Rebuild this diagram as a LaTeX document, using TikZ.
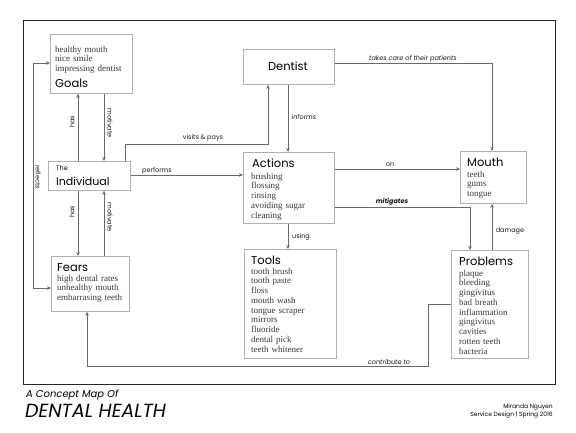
\documentclass[tikz,border=0pt]{standalone}
\usepackage{fontspec}
\setmainfont{Liberation Serif}
\newfontfamily\geo{Poppins}
\usetikzlibrary{arrows.meta}
\definecolor{boxgray}{HTML}{B0B0B0}
\definecolor{linegray}{HTML}{6A6A6A}
\definecolor{listgray}{HTML}{3A3A3A}
\tikzset{
  cbox/.style={draw=boxgray, line width=0.8pt, fill=white, anchor=north west, inner sep=0pt},
  head/.style={anchor=base west, inner sep=0pt, font=\geo\fontsize{11.5}{12}\selectfont},
  lst/.style={anchor=base west, inner sep=0pt, align=left, text width=80pt, text=listgray, font=\fontsize{9}{9.75}\selectfont},
  conn/.style={draw=linegray, line width=0.7pt, -{Stealth[length=4pt,width=3.5pt]}},
  lbl/.style={inner sep=0pt, text=black!90, font=\geo\fontsize{6.5}{7}\selectfont},
  ilbl/.style={inner sep=0pt, text=black!90, font=\geo\itshape\fontsize{6.5}{7}\selectfont},
}
\begin{document}
\begin{tikzpicture}[x=1pt,y=-1pt]
\useasboundingbox (0,0) rectangle (576,432);
\node[draw=black!85, line width=1.1pt, anchor=north west, inner sep=0pt, minimum width=532pt, minimum height=364pt] (frame) at (23,20) {};

% boxes
\node[cbox, minimum width=82pt, minimum height=59pt] (goals) at (50,34) {};
\node[cbox, minimum width=82pt, minimum height=29pt] (ind) at (48,161) {};
\node[cbox, minimum width=78pt, minimum height=55pt] (fears) at (51,256) {};
\node[cbox, minimum width=91pt, minimum height=35pt] (dent) at (243,49) {};
\node[cbox, minimum width=91pt, minimum height=71pt] (act) at (243,152) {};
\node[cbox, minimum width=92pt, minimum height=109pt] (tools) at (244,249) {};
\node[cbox, minimum width=66pt, minimum height=52pt] (mouth) at (460,151) {};
\node[cbox, minimum width=77pt, minimum height=108pt] (prob) at (451,250) {};

% texts
\node[lst] (goalsl) at (55,52) {healthy mouth\\nice smile\\impressing dentist};
\node[head] (goalsh) at (55,87) {Goals};
\node[head, font=\geo\fontsize{6.5}{7}\selectfont] (indthe) at (56,170) {The};
\node[head, font=\geo\fontsize{11}{12}\selectfont] (indh) at (56,185) {Individual};
\node[head] (fearsh) at (57,271) {Fears};
\node[lst] (fearsl) at (57,281) {high dental rates\\unhealthy mouth\\embarrasing teeth};
\node[head, anchor=base] (denth) at (288,70) {Dentist};
\node[head] (acth) at (252,167) {Actions};
\node[lst] (actl) at (251,179) {brushing\\flossing\\rinsing\\avoiding sugar\\cleaning};
\node[head] (toolsh) at (251,264) {Tools};
\node[lst] (toolsl) at (251,274) {tooth brush\\tooth paste\\floss\\mouth wash\\tongue scraper\\mirrors\\fluoride\\dental pick\\teeth whitener};
\node[head] (mouthh) at (467,166) {Mouth};
\node[lst] (mouthl) at (467,177) {teeth\\gums\\tongue};
\node[head] (probh) at (459,265) {Problems};
\node[lst] (probl) at (459,276) {plaque\\bleeding\\gingivitus\\bad breath\\inflammation\\gingivitus\\cavities\\rotten teeth\\bacteria};

% guide coordinates
\coordinate (xa) at (78,0);
\coordinate (xb) at (104,0);
\coordinate (xc) at (125,0);
\coordinate (xd) at (288,0);
\coordinate (xm) at (492,0);
\coordinate (vc) at (268,144);
\coordinate (r1) at (33,63);
\coordinate (r2) at (33,288);
\coordinate (tc) at (492,63);
\coordinate (mi) at (470,207);
\coordinate (q1) at (428,304);
\coordinate (q2) at (428,366);
\coordinate (q3) at (87,366);
\coordinate (yp) at (0,175);
\coordinate (yo) at (0,169);

% connectors
\draw[conn] (ind.north -| xa) -- (goals.south -| xa);
\draw[conn] (goals.south -| xb) -- (ind.north -| xb);
\draw[conn] (ind.south -| xa) -- (fears.north -| xa);
\draw[conn] (fears.north -| xb) -- (ind.south -| xb);
\draw[conn, {Stealth[length=4pt,width=3.5pt]}-{Stealth[length=4pt,width=3.5pt]}] (goals.west |- r1) -- (r1) -- (r2) -- (fears.west |- r2);
\draw[conn] (ind.north -| xc) |- (vc) -- (dent.south -| vc);
\draw[conn] (ind.east |- yp) -- (act.west |- yp);
\draw[conn] (dent.south -| xd) -- (act.north -| xd);
\draw[conn] (act.south -| xd) -- (tools.north -| xd);
\draw[conn] (dent.east |- tc) -- (tc) -- (mouth.north -| tc);
\draw[conn] (act.east |- yo) -- (mouth.west |- yo);
\draw[conn] (act.east |- mi) -- (mi) -- (prob.north -| mi);
\draw[conn] (prob.north -| xm) -- (mouth.south -| xm);
\draw[conn] (prob.west |- q1) -- (q1) -- (q2) -- (q3) -- (fears.south -| q3);

% labels
\node[lbl, rotate=90] (l1) at (72,122) {has};
\node[lbl, rotate=-90] (l2) at (110,123) {motivate};
\node[lbl, rotate=90] (l3) at (72,212) {has};
\node[lbl, rotate=-90] (l4) at (110,217) {motivate};
\node[lbl, rotate=-90] (l5) at (38,177) {reflects};
\node[lbl] (l6) at (203,138) {visits \& pays};
\node[lbl] (l7) at (157,171) {performs};
\node[ilbl] (l8) at (304,117) {informs};
\node[ilbl] (l9) at (413,59) {takes care of their patients};
\node[lbl] (l10) at (390,165) {on};
\node[ilbl, font=\geo\bfseries\itshape\fontsize{6.5}{7}\selectfont] (l11) at (392,202) {mitigates};
\node[lbl] (l12) at (301,237) {using};
\node[lbl] (l13) at (510,231) {damage};
\node[ilbl] (l14) at (389,362) {contribute to};

% title
\node[anchor=base west, inner sep=0pt, font=\geo\itshape\fontsize{10}{10}\selectfont] (t1) at (26,397) {A Concept Map Of};
\node[anchor=base west, inner sep=0pt, font=\geo\itshape\fontsize{19}{19}\selectfont] (t2) at (25,417) {DENTAL HEALTH};
\node[anchor=base east, inner sep=0pt, font=\geo\fontsize{6}{7}\selectfont] (c1) at (553,408) {Miranda Nguyen};
\node[anchor=base east, inner sep=0pt, font=\geo\fontsize{6}{7}\selectfont] (c2) at (553,416) {Service Design | Spring 2016};
\end{tikzpicture}
\end{document}
